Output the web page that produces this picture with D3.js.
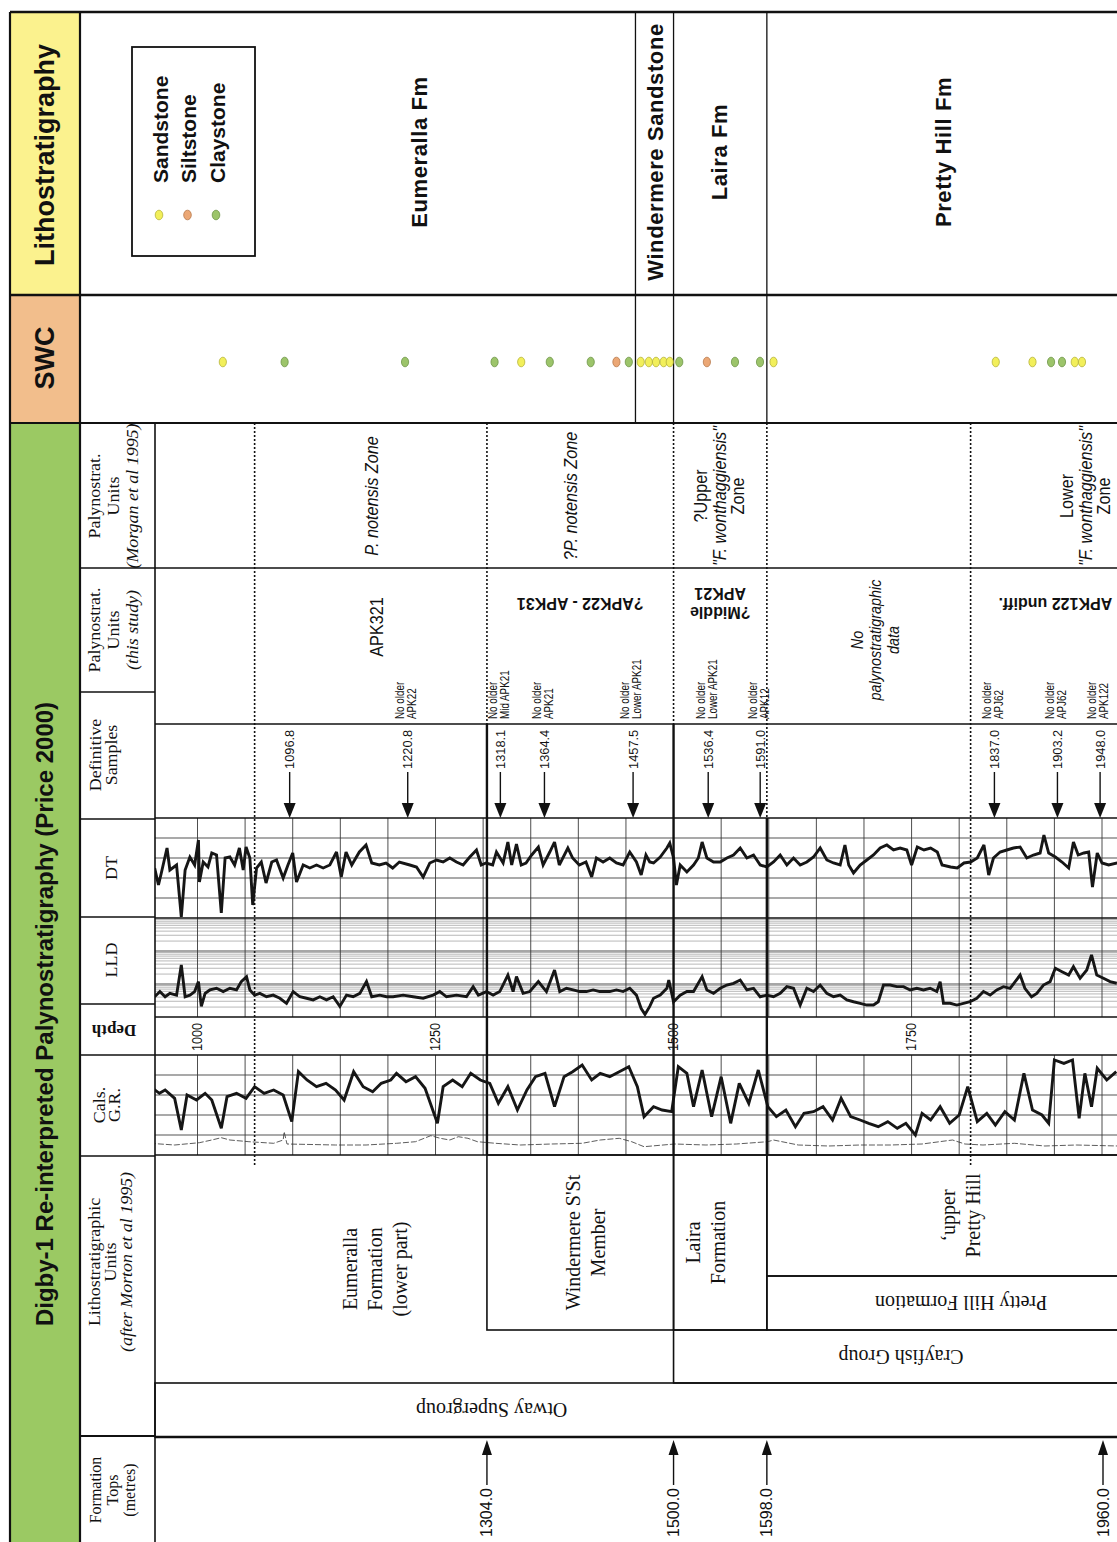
<!DOCTYPE html>
<meta charset="utf-8">
<style>
  body { margin: 0; background: #fff; }
  svg { display: block; }
  .grid { stroke: #3a3a3a; stroke-width: 0.9; }
  .minor { stroke: #9a9a9a; stroke-width: 0.7; }
  .hgrid { stroke: #8c8c8c; stroke-width: 1.3; }
  .border { stroke: #111; fill: none; }
  .dotted { stroke: #111; stroke-width: 1.6; stroke-dasharray: 2, 2; }
  .log { fill: none; stroke: #161616; stroke-width: 2.9; stroke-linejoin: miter; stroke-miterlimit: 3; }
  .cal { fill: none; stroke: #333; stroke-width: 0.8; stroke-dasharray: 6, 2; }
</style>
<body>
<script src="https://d3js.org/d3.v7.min.js"></script>
<script>

  var SANS = "'Liberation Sans', Arial, sans-serif",
      SERIF = "'Liberation Serif', 'Times New Roman', serif";

  // ---------- data (depths in metres) ----------
  var depthTicks = [1000, 1250, 1500, 1750];
  var formationTops = [1304.0, 1500.0, 1598.0, 1960.0];

  var lithoNames = ["Eumeralla Fm", "Windermere Sandstone", "Laira Fm", "Pretty Hill Fm"];
  var lithoBases = [1460, 1500, 1598];
  var lithoLabelAt = [1233, 1481, 1548, 1784];

  var swcTypes = ["Sandstone", "Siltstone", "Claystone"];
  var swcDepth = [1026.6, 1091.5, 1218, 1312, 1340, 1370, 1413, 1440, 1453, 1465.5, 1474, 1481.6,
                  1489.6, 1496, 1506, 1535, 1564.5, 1590.8, 1605, 1838.4, 1877, 1896.5, 1908, 1921.4, 1929];
  var swcType = ["Sandstone", "Claystone", "Claystone", "Claystone", "Sandstone", "Claystone", "Claystone",
                 "Siltstone", "Claystone", "Sandstone", "Sandstone", "Sandstone", "Sandstone", "Sandstone",
                 "Claystone", "Siltstone", "Claystone", "Claystone", "Sandstone", "Sandstone", "Sandstone",
                 "Claystone", "Claystone", "Sandstone", "Sandstone"];

  var palyBounds = [1060, 1304, 1500, 1598, 1812];
  var morganZones = ["P. notensis  Zone", "?P. notensis  Zone", "?Upper|\"F. wonthaggiensis\"|Zone", "Lower|\"F. wonthaggiensis\"|Zone"];
  var morganAt = [1184, 1393, 1549, 1933];
  var studyUnits = ["APK321", "?APK22 - APK31", "?Middle|APK21", "No|palynostratigraphic|data", "APK122 undiff."];
  var studyAt = [1189, 1402, 1549, 1712, 1901];

  var sampleDepth = [1096.8, 1220.8, 1318.1, 1364.4, 1457.5, 1536.4, 1591.0, 1837.0, 1903.2, 1948.0];
  var sampleNote = ["", "No older|APK22", "No older|Mid APK21", "No older|APK21", "No older|Lower APK21",
                    "No older|Lower APK21", "No older|APK12", "No older|APJ62", "No older|APJ62", "No older|APK122"];

  var unitNames = ["Eumeralla|Formation|(lower part)", "Windermere S'St|Member", "Laira|Formation",
                   "\u2018upper|Pretty Hill", "Pretty Hill Formation", "Crayfish Group", "Otway Supergroup"];
  var unitTop = [null, 1304, 1500, 1598, 1598, 1500, null];
  var unitBase = [1304, 1500, 1598, null, null, null, null];
  var unitRank = [[0, 3], [0, 2], [0, 2], [0, 1], [1, 2], [2, 3], [3, 4]];
  var unitAt = [1186, 1407, 1534, 1801, 1802, 1739, 1309];

  var dtLog = [[955,90],[959,107],[962,95],[968,70],[971,92],[978,87],[983,139],[987,92],[992,79],[997,87],[1001,62],[1002,104],[1006,84],[1011,89],[1015,75],[1020,77],[1025,135],[1029,80],[1034,79],[1039,87],[1044,70],[1048,92],[1051,69],[1055,80],[1058,127],[1062,90],[1067,84],[1072,105],[1078,84],[1083,82],[1090,100],[1095,87],[1100,75],[1104,104],[1111,87],[1118,90],[1125,87],[1132,90],[1139,87],[1146,74],[1151,99],[1156,74],[1162,87],[1170,74],[1177,67],[1183,85],[1191,87],[1198,85],[1205,90],[1212,84],[1223,87],[1230,89],[1237,99],[1244,85],[1251,82],[1258,84],[1265,80],[1272,84],[1279,87],[1286,79],[1293,72],[1298,87],[1303,85],[1310,87],[1314,74],[1321,85],[1326,64],[1330,87],[1335,66],[1340,87],[1345,85],[1351,77],[1358,69],[1363,87],[1370,74],[1375,64],[1380,87],[1389,70],[1394,80],[1401,87],[1408,84],[1414,99],[1419,80],[1426,84],[1433,80],[1440,85],[1447,87],[1454,74],[1461,84],[1466,97],[1471,77],[1475,84],[1479,85],[1486,79],[1493,70],[1496,65],[1500,80],[1503,107],[1507,87],[1514,94],[1521,87],[1526,80],[1530,64],[1535,80],[1542,84],[1549,84],[1556,80],[1563,77],[1570,70],[1577,80],[1584,77],[1591,87],[1598,89],[1605,84],[1612,77],[1619,87],[1626,80],[1633,87],[1640,84],[1647,79],[1654,70],[1661,82],[1668,85],[1675,87],[1680,67],[1684,87],[1689,95],[1696,87],[1703,82],[1710,77],[1717,70],[1724,67],[1731,72],[1738,70],[1745,72],[1750,87],[1756,69],[1763,72],[1770,70],[1777,74],[1782,87],[1791,89],[1798,90],[1805,85],[1812,84],[1819,80],[1826,67],[1831,97],[1836,80],[1843,74],[1850,72],[1857,70],[1864,69],[1871,80],[1878,77],[1885,75],[1889,57],[1894,75],[1901,79],[1908,84],[1915,90],[1920,64],[1925,77],[1931,75],[1936,74],[1940,109],[1945,75],[1950,85],[1957,87],[1966,85]];

  var lldLog = [[955,4.1],[960.5,5.9],[966,4.1],[971,5.2],[978,4.6],[983,37.6],[987,4.1],[992,4.6],[997,5.9],[1001,11.8],[1004,2.1],[1008,5.2],[1013,6.6],[1020,7.4],[1027,5.9],[1034,7.4],[1041,6.6],[1046,11.8],[1051.5,16.7],[1055,6.6],[1060,4.6],[1065.5,5.2],[1072.5,4.1],[1079.5,4.6],[1086.5,3.7],[1093.5,2.6],[1100.5,5.9],[1107.5,4.1],[1114.5,3.7],[1121.5,3.3],[1128.5,4.1],[1135.5,3.3],[1142.5,4.1],[1149.5,2.1],[1156.5,4.6],[1163.5,4.1],[1170.5,5.2],[1177.5,11.8],[1183,4.1],[1191.5,4.6],[1198.5,4.1],[1205.5,4.1],[1216,4.6],[1226.5,4.1],[1237,3.7],[1247.5,4.6],[1254.5,5.9],[1261.5,4.1],[1272,4.6],[1282.5,4.1],[1289.5,8.3],[1295,4.6],[1303.5,5.9],[1310.5,4.6],[1317.5,5.9],[1326,18.7],[1331.5,5.9],[1335,16.7],[1342,5.2],[1349,5.9],[1358,11.8],[1366.5,5.9],[1375,26.6],[1380.5,5.9],[1387.5,7.4],[1394.5,6.6],[1401.5,5.9],[1408.5,5.9],[1415.5,6.6],[1422.5,5.9],[1433,5.9],[1440,6.6],[1447,5.9],[1454,7.4],[1461,4.6],[1466,1.8],[1470,1.2],[1475,2.1],[1479,3.7],[1486,4.6],[1493,7.4],[1495,13.2],[1500,2.9],[1507,4.6],[1514,5.9],[1521,5.9],[1530,16.7],[1535,6.6],[1542,5.2],[1549,7.4],[1556,9.3],[1563,10.5],[1570,13.2],[1577,6.6],[1584,7.4],[1591,4.1],[1598,4.6],[1605,4.1],[1612,5.2],[1619,8.3],[1626,7.4],[1633,2.3],[1640,7.4],[1647,5.9],[1654,9.3],[1661,5.2],[1668,4.1],[1675,4.6],[1682,3.3],[1689,2.9],[1696,2.6],[1703,2.3],[1710,2.3],[1715,2.9],[1720.5,9.3],[1727.5,9.3],[1734.5,8.3],[1741.5,8.3],[1748.5,6.6],[1755.5,7.4],[1762.5,6.6],[1769.5,7.4],[1776.5,5.9],[1780,11.8],[1783.5,2.6],[1790.5,2.6],[1797.5,2.3],[1804.5,2.6],[1811.5,2.9],[1818.5,3.7],[1825.5,5.9],[1832.5,4.6],[1839.5,6.6],[1846.5,8.3],[1853.5,7.4],[1864,18.7],[1869,7.4],[1876,4.1],[1881.5,5.2],[1888.5,9.3],[1895.5,11.8],[1901,29.9],[1908,23.6],[1915,18.7],[1920,33.5],[1927,14.9],[1934,26.6],[1939,75.7],[1944.5,18.7],[1951.5,14.9],[1958.5,11.8],[1965.5,10.5]];

  var grLog = [[953,100],[960,92.5],[966,97.5],[976,85],[983,37.5],[989,90],[999,82.5],[1008,92.5],[1015,82.5],[1025,40],[1031,87.5],[1041,92.5],[1051,85],[1060,102.5],[1070,92.5],[1080,97.5],[1090,90],[1099,50],[1106,125],[1115,112.5],[1125,102.5],[1135,107.5],[1145,97.5],[1154,82.5],[1164,125],[1174,102.5],[1184,95],[1193,107.5],[1203,112.5],[1209,122.5],[1219,110],[1229,117.5],[1239,100],[1252,47.5],[1258,102.5],[1268,112.5],[1278,102.5],[1287,122.5],[1297,112.5],[1307,107.5],[1316,77.5],[1326,102.5],[1336,67.5],[1346,97.5],[1355,117.5],[1365,122.5],[1375,72.5],[1385,117.5],[1394,125],[1404,135],[1414,112.5],[1423,122.5],[1433,117.5],[1443,125],[1453,132.5],[1462,102.5],[1469,57.5],[1479,72.5],[1488,67.5],[1498,65],[1505,132.5],[1514,122.5],[1521,72.5],[1530,127.5],[1540,57.5],[1550,117.5],[1560,47.5],[1569,107.5],[1579,77.5],[1589,127.5],[1599,72.5],[1608,57.5],[1618,67.5],[1628,42.5],[1637,62.5],[1647,65],[1657,72.5],[1667,52.5],[1676,85],[1686,57.5],[1696,52.5],[1705,47.5],[1715,42.5],[1725,50],[1735,40],[1744,47.5],[1754,30],[1761,62.5],[1770,52.5],[1780,72.5],[1790,47.5],[1800,60],[1809,102.5],[1819,50],[1829,62.5],[1838,45],[1848,65],[1858,52.5],[1868,122.5],[1877,67.5],[1887,60],[1894,47.5],[1900,142.5],[1910,137.5],[1919,142.5],[1926,55],[1932,122.5],[1939,72.5],[1945,130],[1955,112.5],[1965,125]];

  var calLog = [[950,7.17],[976,7.0],[1002,7.23],[1015,7.5],[1025,7.73],[1034,7.5],[1054,7.33],[1080,7.17],[1090,7.5],[1091,8.33],[1094,7.1],[1145,7.0],[1177,7.0],[1209,7.17],[1229,7.33],[1245,7.93],[1255,7.67],[1265,7.5],[1274,7.83],[1284,7.67],[1294,7.33],[1313,7.17],[1339,7.0],[1372,7.1],[1404,7.17],[1423,7.5],[1443,7.67],[1456,7.33],[1469,6.83],[1501,7.1],[1534,7.0],[1566,7.1],[1599,7.33],[1605,7.5],[1631,7.0],[1663,6.9],[1696,7.0],[1728,7.0],[1761,7.1],[1793,7.5],[1806,7.1],[1825,7.0],[1858,7.17],[1890,6.9],[1923,7.0],[1967,6.9]];

  // ---------- layout ----------
  var W = 1117, H = 1542, L = 155, R = W;
  var svg = d3.select("body").append("svg").attr("width", W).attr("height", H);

  var x = d3.scaleLinear().domain([1000, 1950]).range([197.5, 1102]);
  var yDT = d3.scaleLinear().domain([140, 40]).range([918, 818]);
  var yLLD = d3.scaleLog().domain([1, 1000]).range([1017, 918]);
  var yGR = d3.scaleLinear().domain([0, 150]).range([1155, 1055]);
  var yCal = d3.scaleLinear().domain([6, 16]).range([1155, 1055]);
  var rankY = [1155, 1276, 1330, 1383, 1437];

  var swcColor = d3.scaleOrdinal().domain(swcTypes).range(["#f2ef5a", "#eba775", "#9cc46a"]);
  var swcStroke = d3.scaleOrdinal().domain(swcTypes).range(["#b5b23a", "#b77a4d", "#6d9448"]);

  function hline(y, x1, x2, w, cls) {
    svg.append("line").attr("class", cls || "border").attr("x1", x1).attr("x2", x2)
      .attr("y1", y).attr("y2", y).attr("stroke-width", w || 1.2);
  }
  function vline(xp, y1, y2, w, cls) {
    svg.append("line").attr("class", cls || "border").attr("x1", xp).attr("x2", xp)
      .attr("y1", y1).attr("y2", y2).attr("stroke-width", w || 1.2);
  }
  function txt(px, py, rot, lines, o) {
    o = o || {};
    var size = o.size || 14, lh = o.lh || size * 1.15;
    var t = svg.append("text")
      .attr("transform", "translate(" + px + "," + py + ") rotate(" + rot + ")" + (o.sx ? " scale(" + o.sx + ",1)" : ""))
      .attr("text-anchor", o.anchor || "middle")
      .style("font-family", o.family || SANS)
      .style("font-size", size + "px")
      .style("font-weight", o.weight || "normal")
      .style("font-style", o.style || "normal")
      .style("letter-spacing", o.ls || null)
      .attr("fill", "#111");
    var n = lines.length;
    lines.forEach(function (l, i) {
      var s = typeof l === "string" ? l : l[0];
      var ts = t.append("tspan").attr("x", 0).attr("y", (i - (n - 1) / 2) * lh)
        .attr("dominant-baseline", "central").text(s);
      if (typeof l !== "string") ts.style("font-style", l[1]);
    });
    return t;
  }

  // ---------- header colour boxes ----------
  svg.append("rect").attr("x", 10).attr("y", 12).attr("width", 70).attr("height", 283).attr("fill", "#fbf28e");
  svg.append("rect").attr("x", 10).attr("y", 295).attr("width", 70).attr("height", 128).attr("fill", "#f2be8c");
  svg.append("rect").attr("x", 10).attr("y", 423).attr("width", 70).attr("height", H - 423).attr("fill", "#9bc963");

  // ---------- log grids ----------
  var clip = svg.append("defs");
  clip.append("clipPath").attr("id", "clipLog").append("rect").attr("x", L).attr("y", 818).attr("width", R - L).attr("height", 199);
  clip.append("clipPath").attr("id", "clipGR").append("rect").attr("x", L).attr("y", 1055).attr("width", R - L).attr("height", 100);

  [60, 80, 100, 120].forEach(function (v) { hline(yDT(v), L, R, 1.3, "hgrid"); });
  [0, 1, 2].forEach(function (k) {
    d3.range(2, 10).forEach(function (m) { hline(yLLD(m * Math.pow(10, k)), L, R, 0.7, "minor"); });
  });
  [10, 100].forEach(function (v) { hline(yLLD(v), L, R, 1.6, "grid"); });
  [30, 60, 90, 120].forEach(function (v) { hline(yGR(v), L, R, 1.6, "hgrid"); });

  d3.range(1000, 1951, 50).forEach(function (d) {
    var w = d === 1000 ? 2.4 : 0.9;
    vline(x(d), 818, 1017, w, "grid");
    vline(x(d), 1055, 1155, 0.9, "grid");
  });

  // ---------- log curves ----------
  function curve(ys) {
    return d3.line().x(function (d) { return x(d[0]); }).y(function (d) { return ys(d[1]); });
  }
  svg.append("path").datum(dtLog).attr("class", "log").attr("d", curve(yDT)).attr("clip-path", "url(#clipLog)");
  svg.append("path").datum(lldLog).attr("class", "log").attr("d", curve(yLLD)).attr("clip-path", "url(#clipLog)");
  svg.append("path").datum(grLog).attr("class", "log").attr("d", curve(yGR)).attr("clip-path", "url(#clipGR)");
  svg.append("path").datum(calLog).attr("class", "cal").attr("d", curve(yCal)).attr("clip-path", "url(#clipGR)");

  // ---------- frame lines ----------
  hline(12, 10, R, 2.6);
  hline(295, 10, R, 2.6);
  hline(423, 10, R, 2.2);
  hline(568, 80, R, 1.6);
  [692, 819, 917, 1004, 1055, 1156].forEach(function (y) { hline(y, 80, L, 1.4); });
  hline(1436, 80, L, 2.2);
  [724, 818, 918, 1017, 1055, 1155].forEach(function (y) { hline(y, L, R, 1.5); });
  hline(1437, L, R, 2.6);
  vline(10, 12, H, 2.2);
  vline(80, 12, H, 2.2);
  vline(L, 423, H, 1.6);

  // lithostratigraphy / SWC boundaries
  lithoBases.forEach(function (d) { vline(x(d), 12, 423, 1.3); });

  // palynological boundaries
  palyBounds.forEach(function (d) {
    if (d === 1060 || d === 1812) {
      vline(x(d), 423, 1167, 1.6, "dotted");
    } else {
      var solidFrom = d === 1598 ? 818 : 724;
      vline(x(d), 423, solidFrom, 1.6, "dotted");
      vline(x(d), solidFrom, 1155, 2.4);
    }
  });

  // lithostratigraphic unit boxes
  unitNames.forEach(function (n, i) {
    if (unitTop[i] === null && i === 0) return;
    var x1 = unitTop[i] === null ? L : x(unitTop[i]);
    var x2 = unitBase[i] === null ? R + 5 : x(unitBase[i]);
    svg.append("rect").attr("class", "border").attr("stroke-width", 1.6)
      .attr("x", x1).attr("y", rankY[unitRank[i][0]])
      .attr("width", x2 - x1).attr("height", rankY[unitRank[i][1]] - rankY[unitRank[i][0]]);
  });

  // ---------- header texts ----------
  txt(44, 1014, -90, ["Digby-1 Re-interpreted Palynostratigraphy (Price 2000)"], { size: 24, weight: "bold" });
  txt(45, 155, -90, ["Lithostratigraphy"], { size: 27, weight: "bold" });
  txt(45, 358, -90, ["SWC"], { size: 27, weight: "bold" });

  var hOpt = { size: 16, family: SERIF, lh: 19, sx: 1.12 };
  txt(114, 496, -90, ["Palynostrat.", "Units", ["(Morgan et al 1995)", "italic"]], hOpt);
  txt(114, 630, -90, ["Palynostrat.", "Units", ["(this study)", "italic"]], hOpt);
  txt(104, 755, -90, ["Definitive", "Samples"], { size: 16, family: SERIF, lh: 16, sx: 1.12 });
  txt(112, 868, -90, ["DT"], hOpt);
  txt(112, 960, -90, ["LLD"], hOpt);
  txt(114, 1030, 180, ["Depth"], { size: 17, family: SERIF, weight: "bold" });
  txt(107, 1105, -90, ["Cals.", "G.R."], { size: 16, family: SERIF, lh: 15, sx: 1.12 });
  txt(111, 1262, -90, ["Lithostratigraphic", "Units", ["(after Morton et al 1995)", "italic"]], { size: 16, family: SERIF, lh: 16, sx: 1.12 });
  txt(112, 1490, -90, ["Formation", "Tops", "(metres)"], { size: 16, family: SERIF, lh: 17 });

  // ---------- lithostratigraphy row ----------
  svg.append("rect").attr("class", "border").attr("stroke-width", 1.8)
    .attr("x", 132).attr("y", 47).attr("width", 123).attr("height", 209);
  swcTypes.forEach(function (t, i) {
    var cx = 159 + i * 28.5;
    svg.append("ellipse").attr("cx", cx).attr("cy", 215).attr("rx", 3.8).attr("ry", 4.8)
      .attr("fill", swcColor(t)).attr("stroke", swcStroke(t)).attr("stroke-width", 0.8);
    txt(cx + 1, 183, -90, [t], { size: 21, weight: "bold", anchor: "start" });
  });
  lithoNames.forEach(function (n, i) {
    txt(x(lithoLabelAt[i]), 152, -90, [n], { size: 22, weight: "bold", ls: "0.6px" });
  });

  // ---------- SWC row ----------
  swcDepth.forEach(function (d, i) {
    svg.append("ellipse").attr("cx", x(d)).attr("cy", 362).attr("rx", 3.6).attr("ry", 4.8)
      .attr("fill", swcColor(swcType[i])).attr("stroke", swcStroke(swcType[i])).attr("stroke-width", 0.8);
  });

  // ---------- palynostratigraphic units ----------
  morganZones.forEach(function (z, i) {
    var lines = z.split("|").map(function (s) {
      return /notensis|wonthaggiensis/.test(s) ? [s, "italic"] : s;
    });
    txt(x(morganAt[i]), 496, -90, lines, { size: 18, sx: 0.9, lh: 18.5 });
  });
  studyUnits.forEach(function (u, i) {
    var lines = u.split("|");
    if (/APK22 - |Middle|undiff/.test(u)) {
      txt(x(studyAt[i]), 603, 180, lines, { size: 16, weight: "bold", lh: 19 });
    } else if (/^No/.test(u)) {
      txt(x(studyAt[i]), 640, -90, lines, { size: 16, style: "italic", sx: 0.9, lh: 18 });
    } else {
      txt(x(studyAt[i]), 627, -90, lines, { size: 18, sx: 0.9 });
    }
  });

  // ---------- definitive samples ----------
  sampleDepth.forEach(function (d, i) {
    var px = x(d);
    txt(px, 769, -90, [d3.format(".1f")(d)], { size: 13.5, anchor: "start", sx: 0.95 });
    svg.append("line").attr("class", "border").attr("stroke-width", 1.4)
      .attr("x1", px).attr("x2", px).attr("y1", 772).attr("y2", 805);
    svg.append("path").attr("fill", "#111")
      .attr("d", "M" + (px - 6) + ",803L" + (px + 6) + ",803L" + px + ",818Z");
    if (sampleNote[i]) {
      txt(px - 2, 719, -90, sampleNote[i].split("|"), { size: 12, sx: 0.82, lh: 12, anchor: "start" });
    }
  });

  // ---------- depth labels ----------
  depthTicks.forEach(function (d) {
    txt(x(d), 1037, -90, [String(d)], { size: 14, sx: 0.9 });
  });

  // ---------- lithostratigraphic units ----------
  unitNames.forEach(function (n, i) {
    var cy = (rankY[unitRank[i][0]] + rankY[unitRank[i][1]]) / 2;
    if (unitRank[i][0] >= 1 && unitRank[i][1] - unitRank[i][0] === 1 && i >= 4) {
      txt(x(unitAt[i]), cy, 180, [n], { size: 20, family: SERIF });
    } else {
      txt(x(unitAt[i]), cy, -90, n.split("|"), { size: 20, family: SERIF, lh: 25 });
    }
  });

  // ---------- formation tops ----------
  formationTops.forEach(function (d) {
    var px = Math.min(x(d), R - 14);
    svg.append("path").attr("fill", "#111")
      .attr("d", "M" + (px - 5) + ",1455L" + (px + 5) + ",1455L" + px + ",1440Z");
    svg.append("line").attr("class", "border").attr("stroke-width", 1.4)
      .attr("x1", px).attr("x2", px).attr("y1", 1454).attr("y2", 1485);
    txt(px, 1488, -90, [d3.format(".1f")(d)], { size: 16, anchor: "end" });
  });

</script>
